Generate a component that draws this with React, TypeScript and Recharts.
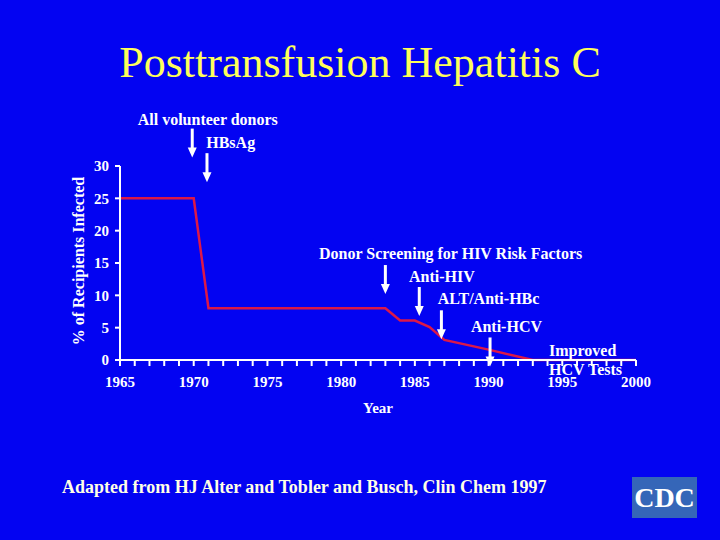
import React from "react";
import {
  LineChart,
  Line,
  XAxis,
  YAxis,
  ReferenceDot,
  Label,
} from "recharts";

// % of transfusion recipients infected, by year
const years = [1965, 1970, 1971, 1983, 1984, 1985, 1986, 1987, 1990, 1993, 2000];
const infectedPct = [25, 25, 8, 8, 6.1, 6.1, 5.1, 3.1, 1.6, 0, 0];

const yTicks = [0, 5, 10, 15, 20, 25, 30];
const labeledYears = [1965, 1970, 1975, 1980, 1985, 1990, 1995, 2000];
const tickYears = Array.from({ length: 36 }, (_, i) => 1965 + i);

// arrows: year and tip value
const arrowYears = [1969.9, 1970.9, 1983, 1985.3, 1986.8, 1990.1];
const arrowTips = [31.3, 27.5, 10.2, 6.8, 3.2, -1];

// annotation text: start year and baseline value
const noteTexts = [
  "All volunteer donors",
  "HBsAg",
  "Donor Screening for HIV Risk Factors",
  "Anti-HIV",
  "ALT/Anti-HBc",
  "Anti-HCV",
  "Improved",
  "HCV Tests",
];
const noteYears = [1966.2, 1970.85, 1978.5, 1984.6, 1986.55, 1988.8, 1994.1, 1994.1];
const noteValues = [36.4, 32.8, 15.6, 12.1, 8.7, 4.3, 0.6, -2.3];

const BG = "#0303F2";
const SERIF = "'Liberation Serif', 'Times New Roman', serif";

const data = years.map((y, i) => ({ year: y, pct: infectedPct[i] }));
const arrows = arrowYears.map((y, i) => ({ year: y, tip: arrowTips[i] }));
const notes = noteTexts.map((t, i) => ({ text: t, year: noteYears[i], value: noteValues[i] }));

const Arrow = ({ cx, cy }: { cx?: number; cy?: number }) => {
  if (cx == null || cy == null) return null;
  return (
    <g>
      <line x1={cx} y1={cy - 29} x2={cx} y2={cy - 8} stroke="#fff" strokeWidth={3} />
      <polygon points={`${cx - 4.5},${cy - 10} ${cx + 4.5},${cy - 10} ${cx},${cy}`} fill="#fff" />
    </g>
  );
};

const NoteText = ({ cx, cy, text }: { cx?: number; cy?: number; text: string }) => {
  if (cx == null || cy == null) return null;
  return (
    <text x={cx} y={cy} fill="#fff" fontFamily={SERIF} fontWeight="bold" fontSize={16}>
      {text}
    </text>
  );
};

const YLabel = ({ viewBox }: any) => {
  const x = viewBox.x + 14;
  const y = viewBox.y + viewBox.height / 2 - 2;
  return (
    <text
      x={x}
      y={y}
      transform={`rotate(-90, ${x}, ${y})`}
      textAnchor="middle"
      fill="#fff"
      fontFamily={SERIF}
      fontWeight="bold"
      fontSize={16}
    >
      % of Recipients Infected
    </text>
  );
};

const XLabel = ({ viewBox }: any) => (
  <text
    x={viewBox.x + viewBox.width / 2}
    y={viewBox.y + 53}
    textAnchor="middle"
    fill="#fff"
    fontFamily={SERIF}
    fontWeight="bold"
    fontSize={15}
  >
    Year
  </text>
);

const tickStyle = { fill: "#fff", fontSize: 15, fontWeight: "bold", fontFamily: SERIF };

export default function App() {
  return (
    <div
      style={{
        position: "absolute",
        left: 0,
        top: 0,
        width: 720,
        height: 540,
        background: BG,
        overflow: "hidden",
        fontFamily: SERIF,
      }}
    >
      <div
        style={{
          position: "absolute",
          left: 0,
          width: 720,
          top: 38,
          textAlign: "center",
          color: "#FFFF5A",
          fontSize: 44,
          lineHeight: "50px",
        }}
      >
        Posttransfusion Hepatitis C
      </div>

      <LineChart
        width={720}
        height={540}
        data={data}
        margin={{ top: 166, right: 84, bottom: 120, left: 70 }}
        style={{ position: "absolute", left: 0, top: 0 }}
      >
        <XAxis
          dataKey="year"
          type="number"
          domain={[1965, 2000]}
          ticks={tickYears}
          interval={0}
          tickFormatter={(v: number) => (labeledYears.includes(v) ? String(v) : "")}
          tick={tickStyle}
          axisLine={{ stroke: "#fff", strokeWidth: 2 }}
          tickLine={{ stroke: "#fff", strokeWidth: 2 }}
          tickSize={6}
          tickMargin={10}
          height={60}
        >
          <Label content={<XLabel />} />
        </XAxis>
        <YAxis
          domain={[0, 30]}
          ticks={yTicks}
          interval={0}
          tick={tickStyle}
          axisLine={{ stroke: "#fff", strokeWidth: 2 }}
          tickLine={{ stroke: "#fff", strokeWidth: 2 }}
          tickSize={5}
          tickMargin={6}
          width={50}
        >
          <Label content={<YLabel />} />
        </YAxis>
        <Line
          type="linear"
          dataKey="pct"
          stroke="#DC1848"
          strokeWidth={2.5}
          dot={false}
          isAnimationActive={false}
        />
        {arrows.map((a, i) => (
          <ReferenceDot
            key={`a${i}`}
            x={a.year}
            y={a.tip}
            ifOverflow="visible"
            shape={(p: any) => <Arrow cx={p.cx} cy={p.cy} />}
          />
        ))}
        {notes.map((n, i) => (
          <ReferenceDot
            key={`n${i}`}
            x={n.year}
            y={n.value}
            ifOverflow="visible"
            shape={(p: any) => <NoteText cx={p.cx} cy={p.cy} text={n.text} />}
          />
        ))}
      </LineChart>

      <div
        style={{
          position: "absolute",
          left: 62,
          top: 477,
          color: "#FFFFE6",
          fontWeight: "bold",
          fontSize: 18,
          whiteSpace: "nowrap",
        }}
      >
        Adapted from HJ Alter and Tobler and Busch, Clin Chem 1997
      </div>

      <div
        style={{
          position: "absolute",
          left: 632,
          top: 477,
          width: 65,
          height: 41,
          background: "#3566B8",
          color: "#fff",
          fontWeight: "bold",
          fontSize: 28,
          lineHeight: "41px",
          textAlign: "center",
          overflow: "hidden",
        }}
      >
        CDC
      </div>
    </div>
  );
}
